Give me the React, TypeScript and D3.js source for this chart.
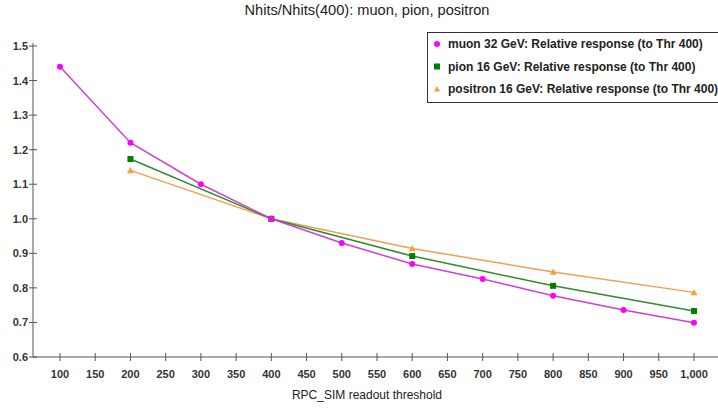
import React from "react";
import * as d3 from "d3";

const thresholds = [100, 150, 200, 250, 300, 350, 400, 450, 500, 550, 600, 650, 700, 750, 800, 850, 900, 950, 1000];
const yTicks = [0.6, 0.7, 0.8, 0.9, 1.0, 1.1, 1.2, 1.3, 1.4, 1.5];

const muonX = [100, 200, 300, 400, 500, 600, 700, 800, 900, 1000];
const muonY = [1.44, 1.22, 1.1, 1.0, 0.93, 0.869, 0.826, 0.777, 0.736, 0.699];
const pionX = [200, 400, 600, 800, 1000];
const pionY = [1.173, 1.0, 0.892, 0.806, 0.733];
const positronX = [200, 400, 600, 800, 1000];
const positronY = [1.14, 1.0, 0.914, 0.846, 0.787];

const W = 718, H = 408;
const font = "Arial, 'Liberation Sans', sans-serif";

export default function App() {
  const x = d3.scaleLinear().domain([100, 1000]).range([60, 694]);
  const y = d3.scaleLinear().domain([0.6, 1.5]).range([357, 46]);
  const axisLeft = 33;
  const line = d3.line<[number, number]>().x(d => x(d[0])).y(d => y(d[1]));
  const zip = (a: number[], b: number[]) => a.map((v, i) => [v, b[i]] as [number, number]);
  const muon = zip(muonX, muonY), pion = zip(pionX, pionY), pos = zip(positronX, positronY);
  const tri = (cx: number, cy: number, s: number) =>
    `M${cx},${cy - s} L${cx + s},${cy + s * 0.8} L${cx - s},${cy + s * 0.8} Z`;

  const legend = [
    { label: "muon 32 GeV: Relative response (to Thr 400)", kind: "circle", color: "#ff00ff" },
    { label: "pion 16 GeV: Relative response (to Thr 400)", kind: "square", color: "#008000" },
    { label: "positron 16 GeV: Relative response (to Thr 400)", kind: "tri", color: "#f4a040" },
  ];

  return (
    <svg width={W} height={H} style={{ position: "absolute", left: 0, top: 0, background: "#fff" }} fontFamily={font}>
      <rect width={W} height={H} fill="#fff" />
      <text x={367} y={15} textAnchor="middle" fontSize={14.6} fill="#222">Nhits/Nhits(400): muon, pion, positron</text>

      {/* axes */}
      <line x1={axisLeft} x2={axisLeft} y1={43} y2={y(0.6)} stroke="#555" />
      <line x1={axisLeft} x2={W} y1={y(0.6)} y2={y(0.6)} stroke="#555" />
      {yTicks.map(t => (
        <g key={t}>
          <line x1={axisLeft - 4} x2={axisLeft + 4} y1={y(t)} y2={y(t)} stroke="#555" />
          <text x={axisLeft - 5} y={y(t) + 4} textAnchor="end" fontSize={11} fontWeight="bold" fill="#333">{t.toFixed(1)}</text>
        </g>
      ))}
      {thresholds.map(t => (
        <g key={t}>
          <line x1={x(t)} x2={x(t)} y1={y(0.6) - 4} y2={y(0.6) + 4} stroke="#555" />
          <text x={x(t)} y={y(0.6) + 21} textAnchor="middle" fontSize={11} fontWeight="bold" fill="#333">{d3.format(",")(t)}</text>
        </g>
      ))}
      <text x={367} y={399} textAnchor="middle" fontSize={12} fill="#222">RPC_SIM readout threshold</text>

      {/* series */}
      <path d={line(pos) || ""} fill="none" stroke="#f0a050" strokeWidth={1.5} />
      <path d={line(pion) || ""} fill="none" stroke="#2e8b2e" strokeWidth={1.5} />
      <path d={line(muon) || ""} fill="none" stroke="#d040d0" strokeWidth={1.5} />
      {pos.map((d, i) => <path key={"t" + i} d={tri(x(d[0]), y(d[1]), 3.5)} fill="#f4a040" />)}
      {pion.map((d, i) => <rect key={"s" + i} x={x(d[0]) - 3} y={y(d[1]) - 3} width={6} height={6} fill="#008000" />)}
      {muon.map((d, i) => <circle key={"c" + i} cx={x(d[0])} cy={y(d[1])} r={3} fill="#ff00ff" />)}

      {/* legend */}
      <rect x={427.5} y={32.5} width={300} height={70} fill="#fff" stroke="#333" />
      {legend.map((l, i) => {
        const cy = 44 + i * 22.5;
        return (
          <g key={l.label}>
            {l.kind === "circle" && <circle cx={437} cy={cy} r={3} fill={l.color} />}
            {l.kind === "square" && <rect x={434} y={cy - 3} width={6} height={6} fill={l.color} />}
            {l.kind === "tri" && <path d={tri(437, cy, 3)} fill={l.color} />}
            <text x={448} y={cy + 4} fontSize={12} fontWeight="bold" fill="#222">{l.label}</text>
          </g>
        );
      })}
    </svg>
  );
}
